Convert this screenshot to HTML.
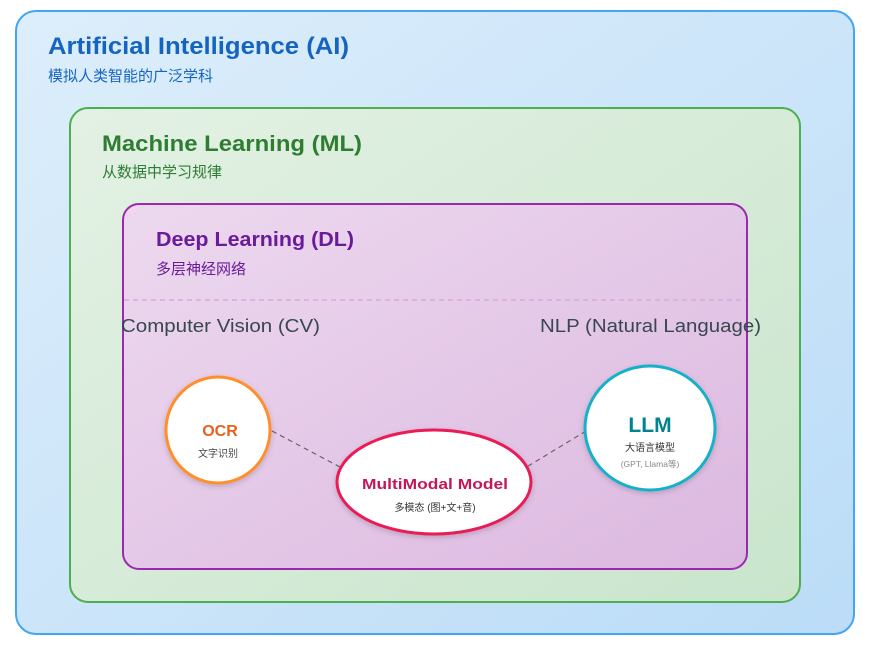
<!DOCTYPE html>
<html><head><meta charset="utf-8"><style>
html,body{margin:0;padding:0;background:#fff;width:873px;height:649px;overflow:hidden}
svg{display:block}
text{font-family:"Liberation Sans","Noto Sans CJK SC",sans-serif}
</style></head><body>
<svg width="873" height="649" viewBox="0 0 873 649" xmlns="http://www.w3.org/2000/svg">
<defs>
<linearGradient id="ga" x1="0" y1="0" x2="1" y2="1"><stop offset="0" stop-color="#ddeefb"/><stop offset="1" stop-color="#bbdcf7"/></linearGradient>
<linearGradient id="gm" x1="0" y1="0" x2="1" y2="1"><stop offset="0" stop-color="#e3f1e4"/><stop offset="1" stop-color="#c9e5cc"/></linearGradient>
<linearGradient id="gd" x1="0" y1="0" x2="1" y2="1"><stop offset="0" stop-color="#edd9ef"/><stop offset="1" stop-color="#dcb8e0"/></linearGradient>
<filter id="sh" x="-20%" y="-20%" width="140%" height="140%"><feDropShadow dx="0" dy="2" stdDeviation="3" flood-color="#000" flood-opacity="0.18"/></filter>
</defs>
<rect x="16" y="11" width="838" height="623" rx="20" fill="url(#ga)" stroke="#42a5f5" stroke-width="2"/>
<text x="48" y="54" font-size="24" font-weight="600" fill="#1565c0" textLength="301" lengthAdjust="spacingAndGlyphs">Artificial Intelligence (AI)</text>
<text x="48" y="81" font-size="15" fill="#1565c0" textLength="165" lengthAdjust="spacingAndGlyphs">模拟人类智能的广泛学科</text>
<rect x="70" y="108" width="730" height="494" rx="18" fill="url(#gm)" stroke="#4caf50" stroke-width="2"/>
<text x="102" y="151" font-size="22" font-weight="600" fill="#2e7d32" textLength="260" lengthAdjust="spacingAndGlyphs">Machine Learning (ML)</text>
<text x="102" y="177" font-size="15" fill="#2e7d32" textLength="120" lengthAdjust="spacingAndGlyphs">从数据中学习规律</text>
<rect x="123" y="204" width="624" height="365" rx="16" fill="url(#gd)" stroke="#9c27b0" stroke-width="2"/>
<text x="156" y="246" font-size="20" font-weight="600" fill="#6a1b9a" textLength="198" lengthAdjust="spacingAndGlyphs">Deep Learning (DL)</text>
<text x="156" y="274" font-size="15" fill="#6a1b9a" textLength="90" lengthAdjust="spacingAndGlyphs">多层神经网络</text>
<line x1="124" y1="300" x2="746" y2="300" stroke="#d9a8dd" stroke-width="1.5" stroke-dasharray="5,4"/>
<text x="121" y="332" font-size="18" fill="#37474f" textLength="199" lengthAdjust="spacingAndGlyphs">Computer Vision (CV)</text>
<text x="540" y="332" font-size="18" fill="#37474f" textLength="221" lengthAdjust="spacingAndGlyphs">NLP (Natural Language)</text>
<line x1="272" y1="431" x2="340" y2="467" stroke="#666" stroke-width="1.2" stroke-dasharray="5,4"/>
<line x1="586" y1="431" x2="525" y2="468" stroke="#666" stroke-width="1.2" stroke-dasharray="5,4"/>
<ellipse cx="218" cy="430" rx="52" ry="53" fill="#fff" stroke="#ff8f2a" stroke-width="3" filter="url(#sh)"/>
<text x="220" y="436" font-size="16" font-weight="600" fill="#e8601c" text-anchor="middle">OCR</text>
<text x="218" y="457" font-size="10" fill="#444" text-anchor="middle">文字识别</text>
<ellipse cx="650" cy="428" rx="65" ry="62" fill="#fff" stroke="#14b1c9" stroke-width="3" filter="url(#sh)"/>
<text x="650" y="432" font-size="21" font-weight="600" fill="#00838f" text-anchor="middle">LLM</text>
<text x="650" y="451" font-size="10" fill="#333" text-anchor="middle">大语言模型</text>
<text x="650" y="467" font-size="8.5" fill="#888" text-anchor="middle">(GPT, Llama等)</text>
<ellipse cx="434" cy="482" rx="97" ry="52" fill="#fff" stroke="#e91e55" stroke-width="3" filter="url(#sh)"/>
<text x="362" y="489" font-size="15" font-weight="600" fill="#c2185b" textLength="146" lengthAdjust="spacingAndGlyphs">MultiModal Model</text>
<text x="435" y="511" font-size="10" fill="#333" text-anchor="middle">多模态 (图+文+音)</text>
</svg>
</body></html>
